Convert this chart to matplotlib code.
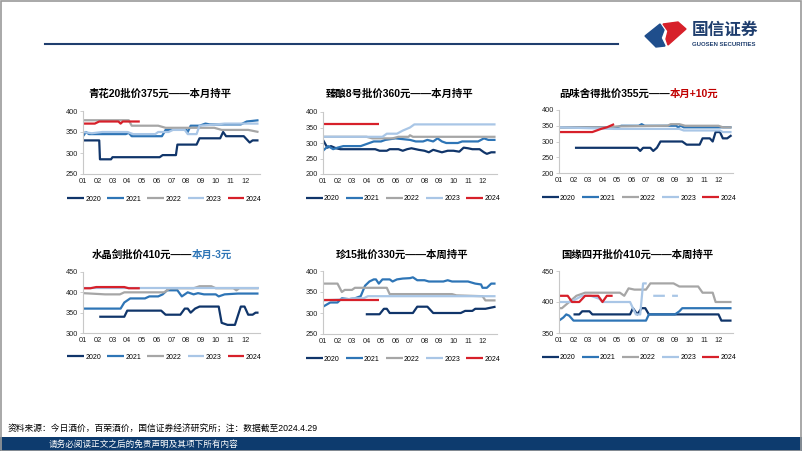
import numpy as np
import matplotlib.pyplot as plt
from matplotlib.patches import Polygon, Rectangle

plt.rcParams['font.family'] = ['Liberation Sans', 'Noto Sans CJK SC', 'DejaVu Sans']

W, H = 802, 451

MONTHS = ['01', '02', '03', '04', '05', '06', '07', '08', '09', '10', '11', '12']
YEARS = ['2020', '2021', '2022', '2023', '2024']
COLORS = ['#10356a', '#2e75b6', '#a6a6a6', '#a9c6e6', '#d7202a']

# (month position, price) points; None = gap
p1_2020 = [(0, 330), (1.1, 330), (1.15, 285), (1.9, 285), (2.0, 290), (5.2, 290), (5.4, 295), (6.3, 295), (6.4, 320),
           (7.7, 320), (7.9, 335), (9.3, 335), (9.5, 350), (9.7, 340), (10.9, 340), (11.3, 325), (11.5, 330), (11.9, 330)]
p1_2021 = [(0, 340), (0.2, 350), (0.4, 345), (2.9, 345), (3.1, 348), (3.3, 340), (5.35, 340), (5.6, 355), (7.0, 355),
           (7.1, 350), (7.3, 365), (7.9, 365), (8.3, 370), (8.6, 368), (10.7, 368), (11.1, 375), (11.9, 378)]
p1_2022 = [(0, 378), (3.1, 378), (3.3, 365), (5.1, 365), (5.6, 360), (8.9, 360), (9.4, 355), (11.2, 355), (11.9, 350)]
p1_2023 = [(0, 350), (0.6, 347), (1.3, 350), (3.0, 350), (3.4, 345), (4.9, 345), (5.1, 350), (5.8, 350), (6.1, 355),
           (6.9, 355), (7.1, 345), (7.7, 345), (7.9, 365), (9.0, 368), (9.6, 370), (11.9, 370)]
p1_2024 = [(0, 370), (0.8, 370), (1.1, 375), (2.4, 375), (2.55, 370), (2.7, 375), (3.85, 375)]

p2_2020 = [(0, 310), (0.3, 285), (0.55, 290), (0.9, 283), (1.2, 280), (3.6, 280), (3.9, 275), (4.4, 275), (4.6, 280),
           (5.2, 280), (5.5, 275), (5.8, 280), (6.1, 283), (6.6, 278), (7.0, 275), (7.3, 270), (7.6, 278), (8.2, 270),
           (8.6, 275), (9.0, 275), (9.4, 272), (9.7, 285), (10.0, 283), (10.3, 280), (10.8, 280), (11.1, 270),
           (11.3, 265), (11.6, 270), (11.9, 270)]
p2_2021 = [(0, 275), (0.35, 290), (0.7, 280), (1.0, 285), (1.4, 290), (2.6, 290), (3.2, 300), (3.5, 305), (4.0, 305),
           (4.3, 310), (5.0, 315), (5.6, 312), (6.0, 310), (6.4, 305), (6.9, 305), (7.2, 310), (7.6, 305), (7.9, 315),
           (8.2, 305), (8.5, 300), (9.3, 300), (9.6, 305), (10.7, 305), (11.1, 315), (11.4, 310), (11.9, 310)]
p2_2022 = [(0, 320), (3.0, 320), (3.4, 315), (4.8, 315), (5.2, 320), (5.9, 320), (6.0, 325), (6.2, 320), (11.9, 320)]
p2_2023 = [(0, 320), (4.1, 320), (4.4, 330), (5.1, 330), (5.5, 340), (6.0, 350), (6.3, 360), (11.9, 360)]
p2_2024 = [(0, 360), (3.85, 360)]

p3_2020 = [(1.1, 280), (5.4, 280), (5.6, 270), (5.8, 280), (6.3, 280), (6.5, 270), (6.75, 280), (7.0, 300), (8.5, 300),
           (8.8, 290), (9.7, 290), (9.9, 310), (10.4, 310), (10.6, 300), (10.8, 330), (11.1, 330), (11.3, 310),
           (11.6, 310), (11.9, 320)]
p3_2021 = [(0, 345), (4.0, 345), (4.3, 350), (5.5, 350), (5.7, 355), (5.9, 350), (8.1, 350), (8.2, 345), (8.4, 350),
           (8.6, 345), (11.9, 345)]
p3_2022 = [(0, 345), (3.5, 345), (4.0, 348), (7.5, 350), (7.7, 355), (8.3, 355), (8.7, 350), (11.0, 350), (11.3, 345),
           (11.9, 345)]
p3_2023 = [(0, 345), (3.8, 340), (8.3, 340), (8.6, 335), (11.1, 335), (11.3, 330), (11.9, 330)]
p3_2024 = [(0, 330), (2.3, 330), (2.9, 340), (3.3, 345), (3.8, 355)]

p4_2020 = [(1.1, 340), (2.8, 340), (3.0, 355), (5.3, 355), (5.6, 345), (6.6, 345), (6.9, 360), (7.1, 360), (7.3, 350),
           (7.6, 360), (7.9, 365), (9.2, 365), (9.4, 325), (9.8, 320), (10.3, 320), (10.7, 365), (10.95, 365),
           (11.2, 345), (11.5, 345), (11.7, 350), (11.9, 350)]
p4_2021 = [(0, 360), (2.55, 360), (2.8, 375), (3.2, 385), (4.2, 385), (4.5, 390), (5.1, 390), (5.4, 395), (5.7, 405),
           (6.4, 405), (6.7, 390), (7.1, 400), (7.5, 395), (7.8, 398), (8.2, 395), (9.0, 395), (9.2, 390), (9.6, 395),
           (10.5, 397), (11.9, 397)]
p4_2022 = [(0, 398), (1.5, 395), (2.5, 395), (2.8, 400), (5.5, 400), (5.9, 410), (7.5, 410), (7.9, 415), (8.7, 415),
           (9.0, 410), (10.2, 410), (10.4, 405), (10.6, 410), (11.9, 410)]
p4_2023 = [(0, 410), (11.9, 410)]
p4_2024 = [(0, 410), (0.5, 410), (0.9, 413), (2.8, 413), (3.1, 410), (3.85, 410)]

p5_2020 = [(2.95, 297), (3.9, 297), (4.2, 310), (4.4, 310), (4.6, 300), (6.2, 300), (6.5, 315), (7.2, 315), (7.6, 300),
           (9.5, 300), (9.8, 305), (10.3, 305), (10.5, 310), (11.2, 310), (11.9, 315)]
p5_2021 = [(0, 315), (0.5, 325), (1.0, 325), (1.3, 335), (1.8, 333), (2.2, 335), (2.6, 340), (2.9, 365), (3.2, 375),
           (3.5, 380), (3.65, 380), (3.85, 370), (4.1, 380), (4.6, 380), (4.8, 375), (5.1, 380), (5.5, 382), (6.0, 383),
           (6.2, 385), (6.5, 378), (7.0, 378), (7.3, 375), (8.3, 375), (8.6, 378), (8.9, 375), (10.0, 375), (10.5, 370),
           (10.9, 368), (11.0, 360), (11.3, 360), (11.6, 370), (11.9, 370)]
p5_2022 = [(0, 370), (1.0, 370), (1.3, 350), (1.5, 355), (2.0, 355), (2.2, 360), (4.4, 360), (4.6, 345), (8.9, 345),
           (9.2, 342), (11.0, 340), (11.2, 330), (11.9, 330)]
p5_2023 = [(0, 330), (1.8, 333), (2.1, 335), (2.8, 335), (3.1, 340), (11.9, 340)]
p5_2024 = [(0, 330), (3.85, 330)]

p6_2020 = [(1.0, 380), (1.4, 380), (1.6, 385), (2.1, 385), (2.3, 380), (4.9, 380), (5.1, 390), (5.4, 380), (5.7, 390),
           (5.95, 390), (6.2, 380), (11.0, 380), (11.2, 370), (11.9, 370)]
p6_2021 = [(0, 370), (0.3, 375), (0.5, 380), (0.7, 378), (1.0, 370), (6.0, 370), (6.2, 380), (8.0, 380), (8.3, 385),
           (8.5, 390), (11.9, 390)]
p6_2022 = [(0, 390), (0.2, 390), (0.7, 400), (1.2, 410), (1.8, 415), (4.2, 415), (4.5, 410), (4.8, 422), (5.2, 420),
           (6.0, 420), (6.3, 430), (7.9, 430), (8.3, 425), (9.6, 425), (9.9, 415), (10.6, 415), (10.8, 400), (11.9, 400)]
p6_2023 = [(0, 400), (0.8, 400), (1.2, 405), (1.6, 410), (2.2, 410), (2.8, 405), (3.0, 400), (4.9, 400), (5.1, 390),
           (5.3, 380), (5.6, 380), (5.8, 430), (6.05, 430), (6.05, None), (6.5, 410), (7.3, 410), (7.3, None),
           (7.8, 410), (8.2, 410)]
p6_2024 = [(0, 410), (0.6, 410), (0.9, 400), (1.4, 400), (1.8, 410), (2.7, 410), (3.0, 400), (3.3, 410), (3.7, 410)]

titles = [
    [('青花20批价375元——本月持平', '#000000')],
    [('臻酿8号批价360元——本月持平', '#000000')],
    [('品味舍得批价355元——', '#000000'), ('本月+10元', '#c00000')],
    [('水晶剑批价410元——', '#000000'), ('本月-3元', '#2e75b6')],
    [('珍15批价330元——本周持平', '#000000')],
    [('国缘四开批价410元——本周持平', '#000000')],
]
yranges = [(250, 400), (200, 400), (200, 400), (300, 450), (250, 400), (350, 450)]
series = [
    [p1_2020, p1_2021, p1_2022, p1_2023, p1_2024],
    [p2_2020, p2_2021, p2_2022, p2_2023, p2_2024],
    [p3_2020, p3_2021, p3_2022, p3_2023, p3_2024],
    [p4_2020, p4_2021, p4_2022, p4_2023, p4_2024],
    [p5_2020, p5_2021, p5_2022, p5_2023, p5_2024],
    [p6_2020, p6_2021, p6_2022, p6_2023, p6_2024],
]

# axes boxes in pixels: left, top, right, bottom ; title anchor x
boxes = [(83, 111, 260, 174), (323, 112, 497, 174), (559, 110, 733, 173),
         (83, 272, 260, 333), (323, 271, 497, 334), (559, 271, 733, 333)]
title_pos = [(160, 94), (400, 94), (670, 94), (192, 255), (402, 255), (637, 255)]


def fx(x):
    return x / W


def fy(y):
    return 1 - y / H


def draw_panel(fig, box, data, yr):
    l, t, r, b = box
    ax = fig.add_axes([fx(l), fy(b), fx(r - l), (b - t) / H])
    for year, pts, color in zip(YEARS, data, COLORS):
        x = [p[0] for p in pts]
        y = [np.nan if p[1] is None else p[1] for p in pts]
        ax.plot(x, y, color=color, lw=1.6, label=year, solid_capstyle='butt')
    ax.set_xlim(0, 12)
    ax.set_ylim(*yr)
    ax.set_yticks(np.arange(yr[0], yr[1] + 1, 50))
    ax.set_xticks(range(12))
    ax.set_xticklabels(MONTHS)
    for s in ['top', 'right']:
        ax.spines[s].set_visible(False)
    for s in ['left', 'bottom']:
        ax.spines[s].set_color('#c8c8c8')
        ax.spines[s].set_linewidth(0.8)
    ax.tick_params(axis='both', labelsize=5.3, colors='#c8c8c8', labelcolor='#222222', length=2, width=0.6, pad=1.5)
    ax.tick_params(axis='x', length=0, pad=3)
    ax.patch.set_alpha(0)
    leg = ax.legend(loc='center', bbox_to_anchor=(0.46, -0.4), ncol=5, frameon=False, fontsize=5,
                    handlelength=2.4, handletextpad=0.2, columnspacing=0.9, borderaxespad=0)
    for line in leg.get_lines():
        line.set_linewidth(1.6)
    return ax


fig = plt.figure(figsize=(W / 100, H / 100), dpi=100)

for i in range(6):
    draw_panel(fig, boxes[i], series[i], yranges[i])
    parts = titles[i]
    tx, ty = title_pos[i]
    if len(parts) == 1:
        fig.text(fx(tx), fy(ty), parts[0][0], color=parts[0][1], fontsize=7.5, fontweight='bold',
                 ha='center', va='center')
    else:
        fig.text(fx(tx), fy(ty), parts[0][0], color=parts[0][1], fontsize=7.5, fontweight='bold',
                 ha='right', va='center')
        fig.text(fx(tx), fy(ty), parts[1][0], color=parts[1][1], fontsize=7.5, fontweight='bold',
                 ha='left', va='center')

# header rule and logo
fig.add_artist(plt.Line2D([fx(45), fx(618)], [fy(44), fy(44)], color='#1f3e6e', lw=1.5))
fig.add_artist(Polygon([(fx(645), fy(36)), (fx(660), fy(24)), (fx(664), fy(30)), (fx(661), fy(38)),
                        (fx(665), fy(46)), (fx(656), fy(47))], closed=True, color='#1f4e8c'))
fig.add_artist(Polygon([(fx(663), fy(24)), (fx(678), fy(22)), (fx(686), fy(29)), (fx(668), fy(45)),
                        (fx(666), fy(39)), (fx(668), fy(31))], closed=True, color='#d7202a'))
fig.text(fx(692), fy(30), '国信证券', fontsize=12, fontweight='bold', color='#1f3e6e', ha='left', va='center')
fig.text(fx(692), fy(44), 'GUOSEN SECURITIES', fontsize=4.3, fontweight='bold', color='#1f3e6e',
         ha='left', va='center')

# footer
fig.text(fx(8), fy(428), '资料来源：今日酒价，百荣酒价，国信证券经济研究所；注：数据截至2024.4.29', fontsize=6.3,
         color='#000000', ha='left', va='center')
fig.add_artist(Rectangle((0, 0), 1, fy(437), transform=fig.transFigure, color='#0d3b6e', lw=0))
fig.text(fx(49), fy(444), '请务必阅读正文之后的免责声明及其项下所有内容', fontsize=6.2, color='white',
         ha='left', va='center')
fig.add_artist(Rectangle((0.001, 0.001), 0.998, 0.997, transform=fig.transFigure, fill=False,
                         edgecolor='#9a9a9a', lw=1.2))

fig.savefig('out.png', dpi=100)
plt.close()
